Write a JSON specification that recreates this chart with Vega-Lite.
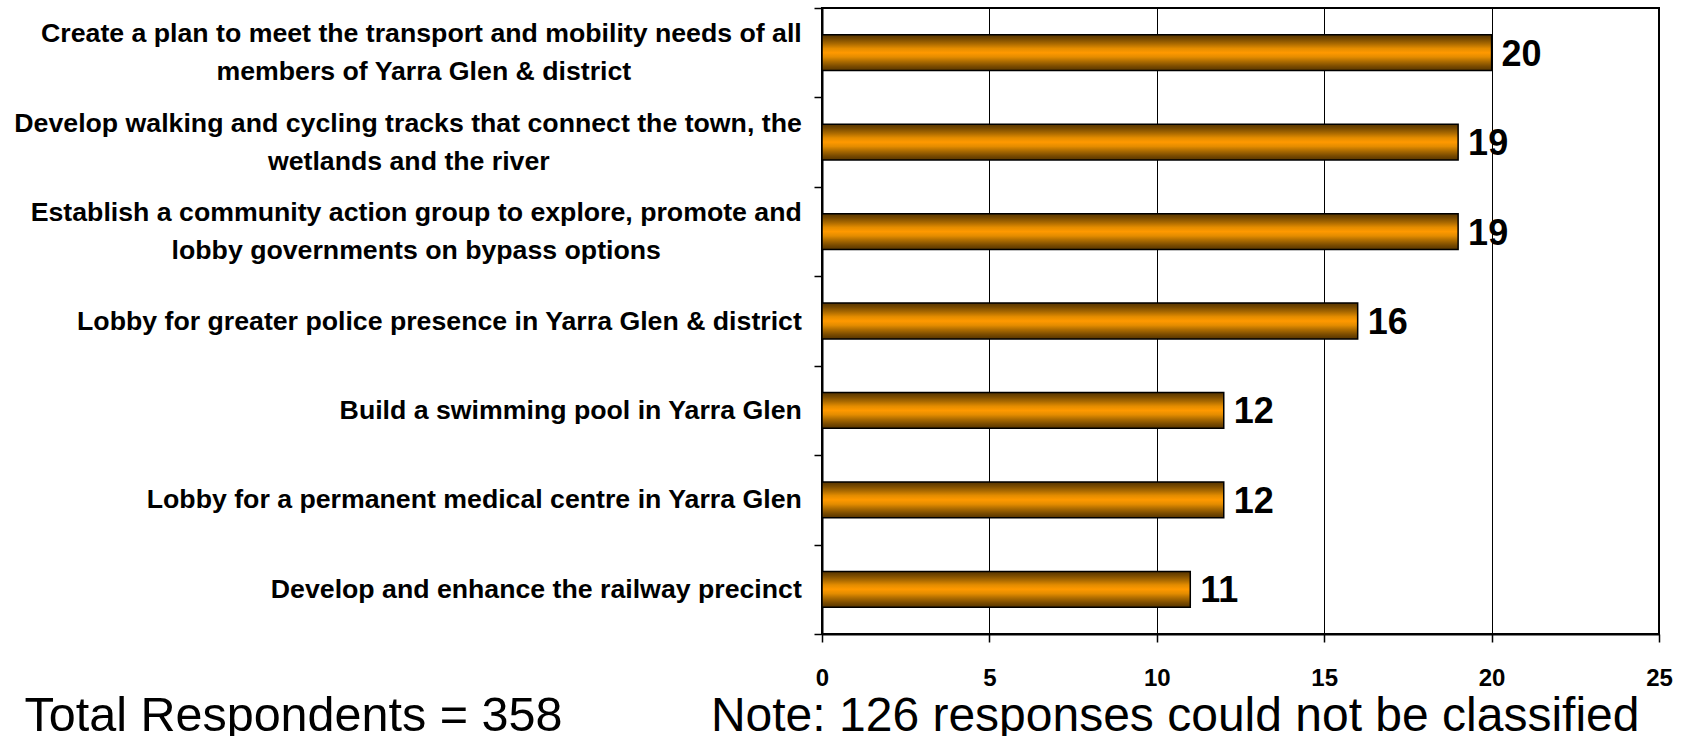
{
  "$schema": "https://vega.github.io/schema/vega-lite/v6.json",
  "width": 837,
  "height": 626,
  "autosize": {"type": "none"},
  "padding": {"left": 822, "top": 8, "right": 24, "bottom": 102},
  "background": "white",
  "config": {
    "view": {"stroke": "black", "strokeWidth": 2},
    "font": "Liberation Sans"
  },
  "data": {
    "values": [
      {"item": "Create a plan to meet the transport and mobility needs of all|members of Yarra Glen & district", "count": 20},
      {"item": "Develop walking and cycling tracks that connect the town, the|wetlands and the river", "count": 19},
      {"item": "Establish a community action group to explore, promote and|lobby governments on bypass options", "count": 19},
      {"item": "Lobby for greater police presence in Yarra Glen & district", "count": 16},
      {"item": "Build a swimming pool in Yarra Glen", "count": 12},
      {"item": "Lobby for a permanent medical centre in Yarra Glen", "count": 12},
      {"item": "Develop and enhance the railway precinct", "count": 11}
    ]
  },
  "encoding": {
    "y": {
      "field": "item",
      "type": "nominal",
      "sort": null,
      "scale": {"paddingInner": 0, "paddingOuter": 0},
      "axis": {
        "title": "Total Respondents = 358",
        "titleAngle": 0,
        "titleX": -798,
        "titleY": 722,
        "titleAlign": "left",
        "titleBaseline": "alphabetic",
        "titleFont": "Liberation Sans",
        "titleFontSize": 48.5,
        "titleFontWeight": "normal",
        "titleColor": "black",
        "labelExpr": "indexof(datum.label, '|') >= 0 ? [split(datum.label, '|')[0], '\u00a0\u200b', split(datum.label, '|')[1] + pad('', indexof(datum.label, 'Create a plan') == 0 ? 23 : (indexof(datum.label, 'Develop walking') == 0 ? 34 : 19), '\u00a0') + '\u200b'] : ['', datum.label]",
        "labelFont": "Liberation Sans",
        "labelFontSize": 26.7,
        "labelFontWeight": "bold",
        "labelColor": "black",
        "labelLineHeight": 19,
        "labelBaseline": "middle",
        "labelLimit": 0,
        "labelPadding": 12.7,
        "labelAlign": "right",
        "labelOffset": -19,
        "tickBand": "extent",
        "tickSize": 8,
        "tickColor": "black",
        "tickWidth": 1.5,
        "domainColor": "black",
        "domainWidth": 2,
        "grid": false
      }
    },
    "x": {
      "field": "count",
      "type": "quantitative",
      "scale": {"domain": [0, 25], "nice": false},
      "axis": {
        "values": [0, 5, 10, 15, 20, 25],
        "grid": true,
        "gridColor": "black",
        "gridWidth": 1,
        "gridOpacity": 1,
        "domainColor": "black",
        "domainWidth": 2,
        "tickSize": 8,
        "tickColor": "black",
        "tickWidth": 1.5,
        "labelFont": "Liberation Sans",
        "labelFontSize": 24,
        "labelFontWeight": "bold",
        "labelColor": "black",
        "labelPadding": 24,
        "labelFlush": false,
        "title": "Note: 126 responses could not be classified",
        "titleFont": "Liberation Sans",
        "titleFontSize": 48,
        "titleFontWeight": "normal",
        "titleColor": "black",
        "titleX": 817,
        "titleY": 96,
        "titleAlign": "right",
        "titleBaseline": "alphabetic"
      }
    }
  },
  "layer": [
    {
      "mark": {
        "type": "bar",
        "height": {"band": 0.4},
        "fill": {
          "gradient": "linear",
          "x1": 0, "y1": 0, "x2": 0, "y2": 1,
          "stops": [
            {"offset": 0, "color": "#553400"},
            {"offset": 0.12, "color": "#7a4b00"},
            {"offset": 0.25, "color": "#ab6a00"},
            {"offset": 0.38, "color": "#e38c00"},
            {"offset": 0.5, "color": "#ff9900"},
            {"offset": 0.62, "color": "#e38c00"},
            {"offset": 0.75, "color": "#ab6a00"},
            {"offset": 0.88, "color": "#7a4b00"},
            {"offset": 1, "color": "#553400"}
          ]
        },
        "stroke": "black",
        "strokeWidth": 1.5
      }
    },
    {
      "mark": {
        "type": "text",
        "align": "left",
        "baseline": "middle",
        "dx": 10,
        "dy": 2,
        "font": "Liberation Sans",
        "fontSize": 36,
        "fontWeight": "bold",
        "color": "black"
      },
      "encoding": {"text": {"field": "count", "type": "quantitative"}}
    }
  ]
}
